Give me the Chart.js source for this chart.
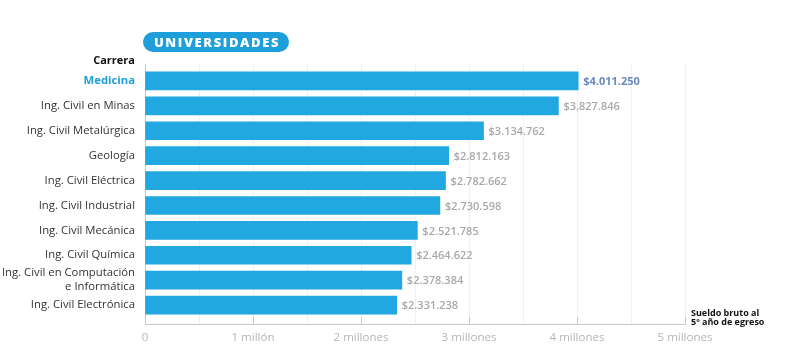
<!DOCTYPE html>
<html>
<head>
<meta charset="utf-8">
<script src="https://cdn.jsdelivr.net/npm/chart.js@4"></script>
<style>
html,body{margin:0;padding:0;background:#fff;}
#wrap{width:800px;height:355px;position:relative;}
</style>
</head>
<body>
<div id="wrap"><canvas id="c" width="800" height="355"></canvas></div>
<script>
const categories = [
  'Medicina',
  'Ing. Civil en Minas',
  'Ing. Civil Metalúrgica',
  'Geología',
  'Ing. Civil Eléctrica',
  'Ing. Civil Industrial',
  'Ing. Civil Mecánica',
  'Ing. Civil Química',
  ['Ing. Civil en Computación', 'e Informática'],
  'Ing. Civil Electrónica'
];
const salaries = [4011250, 3827846, 3134762, 2812163, 2782662, 2730598, 2521785, 2464622, 2378384, 2331238];
const xTickLabels = {0: '0', 1000000: '1 millón', 2000000: '2 millones', 3000000: '3 millones', 4000000: '4 millones', 5000000: '5 millones'};
const titleText = 'UNIVERSIDADES';
const yAxisTitle = 'Carrera';
const xAxisTitle = ['Sueldo bruto al', '5º año de egreso'];

const FONT = "'Open Sans', sans-serif";
const BAR = '#22a8e1';
const HILITE = '#1e9fdb';

function fmt(v) {
  return '$' + String(v).replace(/\B(?=(\d{3})+(?!\d))/g, '.');
}

const extras = {
  id: 'extras',
  afterDraw(chart) {
    const ctx = chart.ctx;
    const xs = chart.scales.x;
    const area = chart.chartArea;
    ctx.save();
    // short tick marks at whole millions
    ctx.strokeStyle = '#c8c8c8';
    ctx.lineWidth = 1;
    Object.keys(xTickLabels).forEach(k => {
      const v = Number(k);
      if (v === 0) return;
      const px = Math.round(xs.getPixelForValue(v)) + 0.5;
      ctx.beginPath();
      ctx.moveTo(px, area.bottom - 7);
      ctx.lineTo(px, area.bottom);
      ctx.stroke();
    });
    // value labels
    const meta = chart.getDatasetMeta(0);
    ctx.textBaseline = 'middle';
    ctx.textAlign = 'left';
    meta.data.forEach((bar, i) => {
      ctx.font = (i === 0 ? '700 ' : '600 ') + '11px ' + FONT;
      ctx.fillStyle = i === 0 ? '#6a87c2' : '#a8a8a8';
      ctx.fillText(fmt(salaries[i]), bar.x + 5, bar.y + 1);
    });
    // title pill
    const px = area.left - 2, py = 32, pw = 146, ph = 20, r = 10;
    ctx.fillStyle = HILITE;
    ctx.beginPath();
    ctx.roundRect(px, py, pw, ph, r);
    ctx.fill();
    ctx.fillStyle = '#fff';
    ctx.font = '800 13px ' + FONT;
    ctx.textAlign = 'center';
    if ('letterSpacing' in ctx) ctx.letterSpacing = '1.6px';
    ctx.fillText(titleText, px + pw / 2 + 1, py + ph / 2 + 1);
    if ('letterSpacing' in ctx) ctx.letterSpacing = '0px';
    // y axis title
    ctx.fillStyle = '#111';
    ctx.font = '700 11px ' + FONT;
    ctx.textAlign = 'right';
    ctx.fillText(yAxisTitle, area.left - 10, 61);
    // x axis title
    ctx.font = '700 9px ' + FONT;
    ctx.textAlign = 'left';
    ctx.fillText(xAxisTitle[0], area.right + 6, 313);
    ctx.fillText(xAxisTitle[1], area.right + 6, 322);
    ctx.restore();
  }
};

new Chart(document.getElementById('c'), {
  type: 'bar',
  data: {
    datasets: [{
      data: salaries.map((v, i) => ({x: v, y: i})),
      backgroundColor: BAR,
      borderWidth: 0,
      barThickness: 18
    }]
  },
  options: {
    indexAxis: 'y',
    responsive: false,
    animation: false,
    devicePixelRatio: 1,
    layout: {padding: {top: 64, right: 115, left: 0, bottom: 0}},
    plugins: {legend: {display: false}, tooltip: {enabled: false}},
    scales: {
      x: {
        type: 'linear',
        min: 0, max: 5000000,
        afterFit(s) { s.height = 31; },
        grid: {color: '#f0f0f0', drawTicks: false},
        border: {display: true, color: '#c8c8c8'},
        ticks: {
          stepSize: 500000,
          autoSkip: false,
          maxRotation: 0,
          padding: 7,
          color: '#b5b5b5',
          font: {family: FONT, size: 11.5},
          callback: (v) => (xTickLabels[v] !== undefined ? xTickLabels[v] : '')
        }
      },
      y: {
        type: 'linear',
        reverse: true,
        offset: false,
        min: -0.68, max: 9.76,
        afterFit(s) { s.width = 145; },
        afterBuildTicks(s) { s.ticks = categories.map((_, i) => ({value: i})); },
        grid: {display: false, drawTicks: false},
        border: {display: true, color: '#c8c8c8'},
        ticks: {
          autoSkip: false,
          padding: 10,
          color: (c) => (c.index === 0 ? '#1e9fdb' : '#333333'),
          font: (c) => ({family: FONT, size: 11.3, weight: c.index === 0 ? '700' : '400', lineHeight: 1.25}),
          callback: (v) => categories[v]
        }
      }
    }
  },
  plugins: [extras]
});
</script>
</body>
</html>
